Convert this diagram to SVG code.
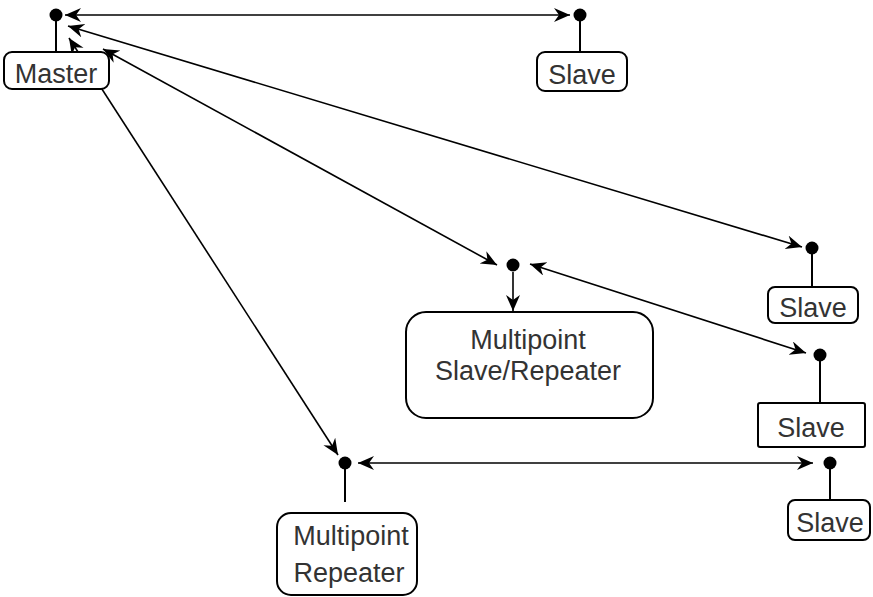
<svg xmlns="http://www.w3.org/2000/svg" width="873" height="597" viewBox="0 0 873 597">
<style>
  .box { fill: #ffffff; stroke: #000000; stroke-width: 2; }
  .stem { stroke: #000000; stroke-width: 2; }
  .dot { fill: #000000; }
  .lbl { font-family: "Liberation Sans", Arial, sans-serif; font-size: 27px; fill: #333333; text-anchor: middle; }
  .conn { stroke: #000000; stroke-width: 1.6; fill: none; marker-start: url(#arr); marker-end: url(#arr); }
  .conn1 { stroke: #000000; stroke-width: 1.6; fill: none; marker-end: url(#arr); }
</style>
<defs>
  <marker id="arr" markerUnits="userSpaceOnUse" markerWidth="18" markerHeight="16" refX="16" refY="7" orient="auto-start-reverse">
    <path d="M0,0 L16,7 L0,14 L5,7 z" fill="#000000"/>
  </marker>
</defs>
<rect width="873" height="597" fill="#ffffff"/>
<g id="connectors">
  <line class="conn" x1="65" y1="15" x2="570" y2="15"/>
  <line class="conn" x1="68" y1="26" x2="802" y2="247"/>
  <line class="conn" x1="103" y1="49" x2="497" y2="265"/>
  <line class="conn" x1="69" y1="38" x2="338" y2="455"/>
  <line class="conn" x1="530" y1="264" x2="806" y2="353"/>
  <line class="conn1" x1="513" y1="272" x2="513" y2="311"/>
  <line class="conn" x1="358" y1="463" x2="813" y2="463"/>
</g>
<g id="master">
  <line class="stem" x1="56" y1="15" x2="56" y2="52"/>
  <circle class="dot" cx="56" cy="15" r="6.5"/>
  <rect class="box" x="4" y="52" width="105" height="37" rx="8"/>
  <text class="lbl" x="56" y="83">Master</text>
</g>
<g id="slave1">
  <line class="stem" x1="580" y1="15" x2="580" y2="52"/>
  <circle class="dot" cx="580" cy="15" r="6.5"/>
  <rect class="box" x="537" y="52" width="90" height="39" rx="8"/>
  <text class="lbl" x="582" y="84">Slave</text>
</g>
<g id="slave2">
  <line class="stem" x1="812" y1="248" x2="812" y2="287"/>
  <circle class="dot" cx="812" cy="248" r="6.5"/>
  <rect class="box" x="768" y="287" width="90" height="36" rx="7"/>
  <text class="lbl" x="813" y="317">Slave</text>
</g>
<g id="multipoint-slave-repeater">
  <circle class="dot" cx="513" cy="265" r="6.5"/>
  <rect class="box" x="406" y="312" width="247" height="106" rx="20"/>
  <text class="lbl" x="528" y="349">Multipoint</text>
  <text class="lbl" x="528" y="380">Slave/Repeater</text>
</g>
<g id="slave3">
  <line class="stem" x1="820" y1="355" x2="820" y2="403"/>
  <circle class="dot" cx="820" cy="355" r="6.5"/>
  <rect class="box" x="758" y="403" width="107" height="44" rx="2"/>
  <text class="lbl" x="811" y="437">Slave</text>
</g>
<g id="multipoint-repeater">
  <line class="stem" x1="345" y1="463" x2="345" y2="502"/>
  <circle class="dot" cx="345" cy="463" r="6.5"/>
  <rect class="box" x="277" y="513" width="140" height="82" rx="14"/>
  <text class="lbl" x="351" y="545">Multipoint</text>
  <text class="lbl" x="349" y="582">Repeater</text>
</g>
<g id="slave4">
  <line class="stem" x1="830" y1="463" x2="830" y2="500"/>
  <circle class="dot" cx="830" cy="463" r="6.5"/>
  <rect class="box" x="788" y="500" width="82" height="40" rx="7"/>
  <text class="lbl" x="830" y="532">Slave</text>
</g>
</svg>
